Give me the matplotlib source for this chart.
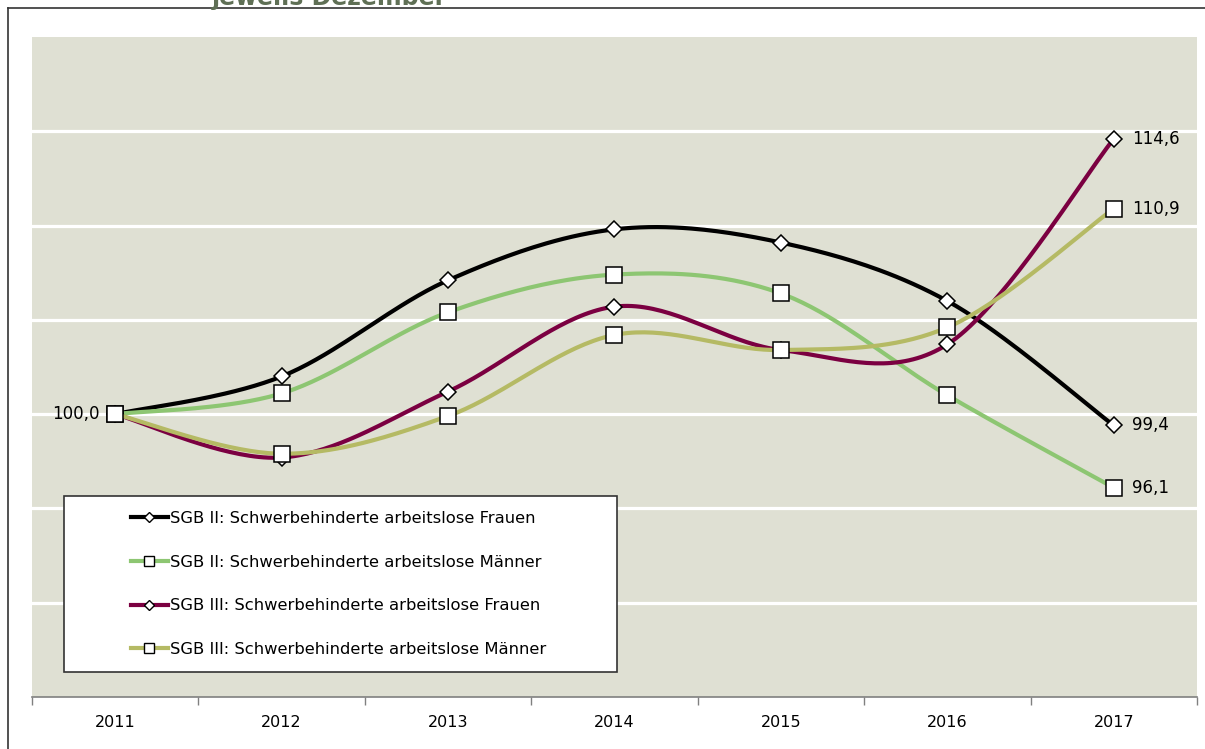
#!/usr/bin/env python3
# Index of unemployed severely disabled persons (SGB II / SGB III),
# 2011 = 100, December values, smoothed lines as in the Excel original.

import matplotlib
matplotlib.use("Agg")
from matplotlib import pyplot as plt
from matplotlib.lines import Line2D
from matplotlib.patches import Rectangle

import numpy as np

YEARS = ["2011", "2012", "2013", "2014", "2015", "2016", "2017"]

SGB2_FRAUEN = [100.0, 102.0, 107.1, 109.8, 109.1, 106.0, 99.4]
SGB2_MAENNER = [100.0, 101.1, 105.4, 107.4, 106.4, 101.0, 96.1]
SGB3_FRAUEN = [100.0, 97.7, 101.2, 105.7, 103.4, 103.7, 114.6]
SGB3_MAENNER = [100.0, 97.9, 99.9, 104.2, 103.4, 104.6, 110.9]

LABELS = [
    "SGB II: Schwerbehinderte arbeitslose Frauen",
    "SGB II: Schwerbehinderte arbeitslose Männer",
    "SGB III: Schwerbehinderte arbeitslose Frauen",
    "SGB III: Schwerbehinderte arbeitslose Männer",
]

TITLE = "jeweils Dezember"

W, H = 1205, 749
BG = "#DFE0D3"

# (values, colour, marker)
SERIES = [
    (SGB2_FRAUEN, "#000000", "D"),
    (SGB2_MAENNER, "#8DC672", "s"),
    (SGB3_FRAUEN, "#7B0041", "D"),
    (SGB3_MAENNER, "#B5BA64", "s"),
]


def smooth(xs, ys, n=40):
    """Excel-style smoothed line: cubic Bezier through the points."""
    pts = np.column_stack([xs, ys]).astype(float)
    last = len(pts) - 1
    out = [pts[0]]
    t = np.linspace(0, 1, n)[1:, None]
    for i in range(last):
        p0, p1 = pts[max(i - 1, 0)], pts[i]
        p2, p3 = pts[i + 1], pts[min(i + 2, last)]
        c1 = p1 + (p2 - p0) / 6
        c2 = p2 - (p3 - p1) / 6
        seg = ((1 - t) ** 3 * p1 + 3 * (1 - t) ** 2 * t * c1
               + 3 * (1 - t) * t ** 2 * c2 + t ** 3 * p2)
        out.extend(seg)
    return np.array(out)


def fx(px):
    return px / W


def fy(py):
    return 1 - py / H


def main():
    plt.rcParams["font.family"] = ["DejaVu Sans"]
    fig = plt.figure(figsize=(W / 100, H / 100), dpi=100)
    ax = fig.add_axes([fx(32), fy(697), fx(1197) - fx(32), fy(37) - fy(697)])
    ax.set_facecolor(BG)

    x = np.arange(len(YEARS))
    handles = []
    for i, (vals, color, marker) in enumerate(SERIES):
        curve = smooth(x, vals)
        ax.plot(curve[:, 0], curve[:, 1], color=color, lw=3.0,
                solid_capstyle="round", zorder=3 + i)
        ms = 8.0 if marker == "D" else 11.5
        ax.plot(x, vals, ls="none", marker=marker, ms=ms, mfc="white",
                mec="black", mew=1.1, zorder=3 + i)
        handles.append(Line2D([], [], color=color, lw=3.0, marker=marker,
                              ms=5.0 if marker == "D" else 7.0,
                              mfc="white", mec="black", mew=1.0))

    # value labels at start and end
    ax.annotate(f"{SGB2_MAENNER[0]:.1f}".replace(".", ","), (x[0], SGB2_MAENNER[0]),
                xytext=(-16, 0), textcoords="offset pixels", ha="right",
                va="center", fontsize=12, zorder=10)
    for vals, _, _ in SERIES:
        ax.annotate(f"{vals[-1]:.1f}".replace(".", ","), (x[-1], vals[-1]),
                    xytext=(18, 0), textcoords="offset pixels", ha="left",
                    va="center", fontsize=12, zorder=10)

    ax.set_xlim(-0.5, len(YEARS) - 0.5)
    ax.set_ylim(85, 120)
    ax.set_yticks([90, 95, 100, 105, 110, 115])
    ax.tick_params(axis="y", left=False, labelleft=False)
    ax.yaxis.grid(True, color="white", lw=2.3)
    ax.set_axisbelow(True)

    ax.set_xticks(x)
    ax.set_xticklabels(YEARS, fontsize=11.5)
    ax.set_xticks(np.arange(len(YEARS) + 1) - 0.5, minor=True)
    ax.tick_params(axis="x", which="major", length=0, pad=13)
    ax.tick_params(axis="x", which="minor", length=6, width=1,
                   color="#808080", direction="out")
    for side in ("left", "right", "top"):
        ax.spines[side].set_visible(False)
    ax.spines["bottom"].set_color("#808080")
    ax.spines["bottom"].set_linewidth(1.2)

    # legend box drawn by hand, entries placed inside it
    box = Rectangle((fx(64), fy(672)), fx(617) - fx(64), fy(496) - fy(672),
                    transform=fig.transFigure, facecolor="white",
                    edgecolor="#333333", lw=1.2, zorder=20)
    fig.add_artist(box)
    leg = fig.legend(handles, LABELS, loc="upper left",
                     bbox_to_anchor=(fx(131), fy(511)), frameon=False,
                     fontsize=11.8, handlelength=2.25, handletextpad=0.1,
                     labelspacing=1.75, borderpad=0, borderaxespad=0)
    leg.set_zorder(21)

    # chart-area frame and clipped title
    fig.add_artist(Line2D([fx(8), fx(8)], [fy(8), 0], color="#333333",
                          lw=1.2, transform=fig.transFigure))
    fig.add_artist(Line2D([fx(8), 1], [fy(8), fy(8)], color="#333333",
                          lw=1.2, transform=fig.transFigure))
    fig.text(fx(329), fy(5.5), TITLE, ha="center", va="baseline",
             fontsize=17, fontweight="bold", color="#5F6F55")

    fig.savefig("out.png", dpi=100, facecolor="white")
    plt.close(fig)


if __name__ == "__main__":
    main()
